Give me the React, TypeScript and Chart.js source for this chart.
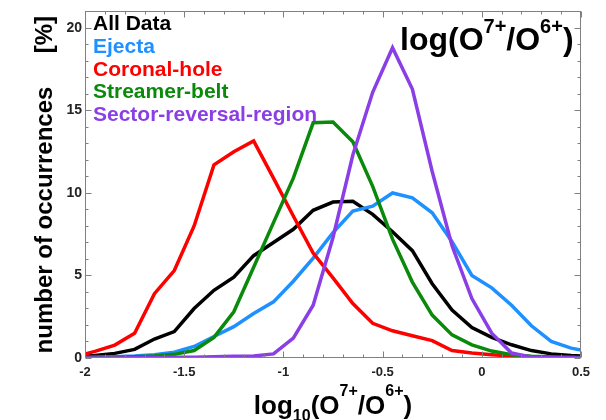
import React, { useEffect, useRef } from 'react';
import { Chart, registerables } from 'chart.js';

Chart.register(...registerables);

const FONT = '"Liberation Sans", Arial, Helvetica, sans-serif';

// bin positions of log10(O7+/O6+)
const xValues = [-2, -1.95, -1.85, -1.75, -1.65, -1.55, -1.45, -1.35, -1.25, -1.15, -1.05, -0.95, -0.85, -0.75, -0.65, -0.55, -0.45, -0.35, -0.25, -0.15, -0.05, 0.05, 0.15, 0.25, 0.35, 0.45, 0.5];

const allData = [0.12, 0.15, 0.28, 0.52, 1.15, 1.6, 3.0, 4.1, 4.9, 6.2, 7.0, 7.8, 8.95, 9.45, 9.5, 8.7, 7.65, 6.5, 4.5, 2.9, 1.85, 1.25, 0.8, 0.45, 0.25, 0.15, 0.12];
const ejecta = [0.05, 0.05, 0.08, 0.12, 0.2, 0.35, 0.7, 1.3, 1.9, 2.7, 3.4, 4.65, 6.05, 7.6, 8.9, 9.2, 10.0, 9.7, 8.8, 7.05, 5.0, 4.25, 3.2, 1.95, 1.0, 0.6, 0.48];
const coronalHole = [0.24, 0.4, 0.78, 1.5, 3.9, 5.3, 8.0, 11.7, 12.5, 13.15, 10.9, 8.6, 6.36, 4.85, 3.3, 2.1, 1.65, 1.35, 1.05, 0.45, 0.3, 0.2, 0.12, 0.08, 0.05, 0.03, 0.02];
const streamerBelt = [0.02, 0.03, 0.05, 0.08, 0.12, 0.22, 0.45, 1.25, 2.8, 5.5, 8.2, 10.9, 14.25, 14.3, 13.1, 10.4, 7.2, 4.6, 2.6, 1.4, 0.8, 0.42, 0.2, 0.1, 0.06, 0.04, 0.03];
const sectorReversal = [0, 0, 0, 0.02, 0.03, 0.04, 0.05, 0.07, 0.1, 0.12, 0.25, 1.2, 3.2, 7.3, 12.3, 16.1, 18.8, 16.3, 11.3, 6.8, 3.6, 1.5, 0.3, 0.05, 0.02, 0.01, 0];

const seriesLabels = ['All Data', 'Ejecta', 'Coronal-hole', 'Streamer-belt', 'Sector-reversal-region'];
const seriesColors = ['#000000', '#1e90ff', '#ff0000', '#0a8a0a', '#8a3fe6'];
const seriesValues = [allData, ejecta, coronalHole, streamerBelt, sectorReversal];

const xTicks = [-2, -1.5, -1, -0.5, 0, 0.5];
const yTicks = [0, 5, 10, 15, 20];
const xRange = [-2, 0.5];
const yRange = [0, 21];

type Part = { text: string; size: number; dy: number };

function drawRich(ctx: CanvasRenderingContext2D, parts: Part[], x: number, y: number, align: 'left' | 'center') {
  const widths = parts.map((p) => {
    ctx.font = `bold ${p.size}px ${FONT}`;
    return ctx.measureText(p.text).width;
  });
  const total = widths.reduce((a, b) => a + b, 0);
  let cx = align === 'center' ? x - total / 2 : x;
  ctx.textAlign = 'left';
  ctx.textBaseline = 'alphabetic';
  parts.forEach((p, i) => {
    ctx.font = `bold ${p.size}px ${FONT}`;
    ctx.fillText(p.text, cx, y + p.dy);
    cx += widths[i];
  });
}

const decorPlugin = {
  id: 'decor',
  afterDraw(chart: any) {
    const { ctx, chartArea: a, scales } = chart;
    const xs = scales.x;
    const ys = scales.y;
    ctx.save();
    // frame
    ctx.strokeStyle = '#808080';
    ctx.lineWidth = 1;
    const L = Math.round(a.left) + 0.5;
    const R = Math.round(a.right) - 0.5;
    const T = Math.round(a.top) + 0.5;
    const B = Math.round(a.bottom) - 0.5;
    ctx.strokeRect(L, T, R - L, B - T);
    // inward ticks
    ctx.beginPath();
    for (let i = Math.round(xRange[0] * 10); i <= Math.round(xRange[1] * 10); i++) {
      const px = Math.round(xs.getPixelForValue(i / 10)) + 0.5;
      const len = i % 5 === 0 ? 6 : 3;
      ctx.moveTo(px, B);
      ctx.lineTo(px, B - len);
      ctx.moveTo(px, T);
      ctx.lineTo(px, T + len);
    }
    for (let j = yRange[0]; j <= yRange[1]; j++) {
      const py = Math.round(ys.getPixelForValue(j)) + 0.5;
      const len = j % 5 === 0 ? 6 : 3;
      ctx.moveTo(L, py);
      ctx.lineTo(L + len, py);
      ctx.moveTo(R, py);
      ctx.lineTo(R - len, py);
    }
    ctx.stroke();

    // legend text
    ctx.textAlign = 'left';
    ctx.textBaseline = 'alphabetic';
    ctx.font = `bold 21px ${FONT}`;
    seriesLabels.forEach((lab, i) => {
      ctx.fillStyle = seriesColors[i];
      ctx.fillText(lab, a.left + 8, a.top + 19 + i * 22.6);
    });

    // in-plot title
    ctx.fillStyle = '#000';
    drawRich(
      ctx,
      [
        { text: 'log(O', size: 32, dy: 0 },
        { text: '7+', size: 20, dy: -17 },
        { text: '/O', size: 32, dy: 0 },
        { text: '6+', size: 20, dy: -17 },
        { text: ')', size: 32, dy: 0 },
      ],
      400,
      50,
      'left'
    );

    // x-axis title
    drawRich(
      ctx,
      [
        { text: 'log', size: 26, dy: 0 },
        { text: '10', size: 16, dy: 7 },
        { text: '(O', size: 26, dy: 0 },
        { text: '7+', size: 16, dy: -18 },
        { text: '/O', size: 26, dy: 0 },
        { text: '6+', size: 16, dy: -18 },
        { text: ')', size: 26, dy: 0 },
      ],
      (a.left + a.right) / 2,
      414,
      'center'
    );

    // y-axis title
    ctx.translate(52, (a.top + a.bottom) / 2);
    ctx.rotate(-Math.PI / 2);
    ctx.textAlign = 'center';
    ctx.font = `bold 24px ${FONT}`;
    ctx.fillText('number of occurrences     [%]', 0, 0);
    ctx.restore();
  },
};

export default function App() {
  const ref = useRef<HTMLCanvasElement | null>(null);
  useEffect(() => {
    if (!ref.current) return;
    Chart.defaults.font.family = FONT;
    const datasets = seriesLabels.map((label, i) => ({
      label,
      data: xValues.map((x, k) => ({ x, y: seriesValues[i][k] })),
      borderColor: seriesColors[i],
      backgroundColor: seriesColors[i],
      borderWidth: 3.5,
      pointRadius: 0,
      tension: 0,
      fill: false,
      order: seriesLabels.length - i,
    }));
    const chart = new Chart(ref.current, {
      type: 'line',
      data: { datasets },
      options: {
        animation: false,
        responsive: false,
        devicePixelRatio: 1,
        events: [],
        layout: { padding: { top: 7, right: 25, left: 0, bottom: 0 } },
        plugins: { legend: { display: false }, tooltip: { enabled: false } },
        scales: {
          x: {
            type: 'linear',
            min: xRange[0],
            max: xRange[1],
            grid: { display: false, drawTicks: false },
            border: { display: false },
            afterBuildTicks: (s: any) => {
              s.ticks = xTicks.map((v) => ({ value: v }));
            },
            ticks: {
              padding: 7,
              color: '#222',
              autoSkip: false,
              maxRotation: 0,
              font: { size: 13, weight: 'bold' },
              callback: (v: any) => String(Math.round(Number(v) * 10) / 10),
            },
            afterFit: (s: any) => {
              s.height = 62;
            },
          },
          y: {
            type: 'linear',
            min: yRange[0],
            max: yRange[1],
            grid: { display: false, drawTicks: false },
            border: { display: false },
            afterBuildTicks: (s: any) => {
              s.ticks = yTicks.map((v) => ({ value: v }));
            },
            ticks: {
              padding: 3,
              color: '#222',
              font: { size: 14, weight: 'bold' },
              callback: (v: any) => String(v),
            },
            afterFit: (s: any) => {
              s.width = 85;
            },
          },
        },
      } as any,
      plugins: [decorPlugin],
    });
    return () => chart.destroy();
  }, []);
  return (
    <div style={{ position: 'absolute', left: 0, top: 0, width: 606, height: 420, background: '#fff' }}>
      <canvas ref={ref} width={606} height={420} style={{ display: 'block' }} />
    </div>
  );
}
